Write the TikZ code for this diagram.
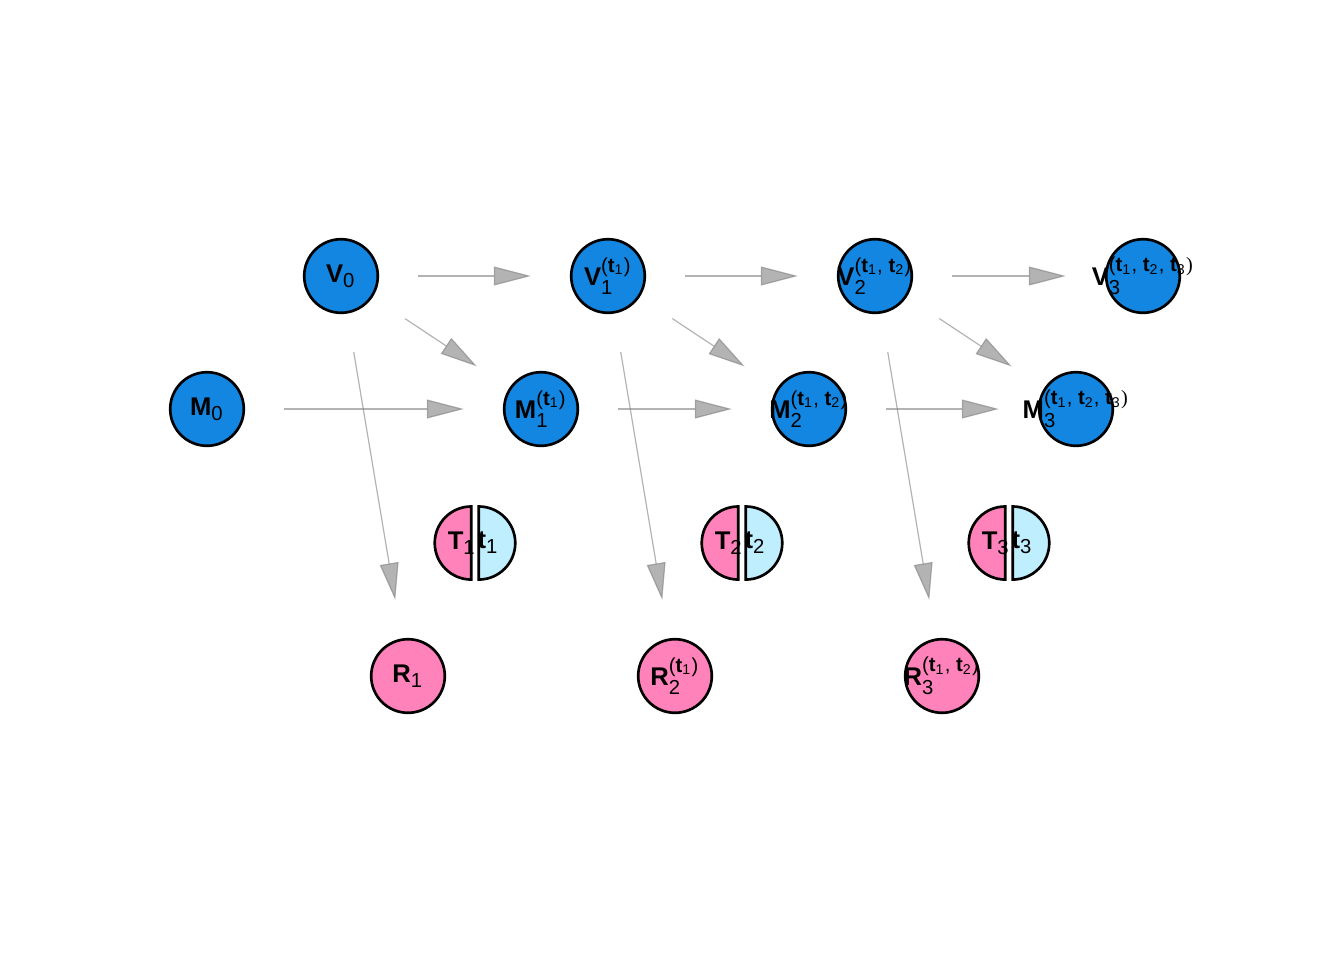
\documentclass[tikz,border=0pt]{standalone}
\usepackage{fontspec}
\usepackage{amsmath}
\setmainfont{Liberation Sans}
\newfontfamily\parenfont{Liberation Serif}
\usetikzlibrary{arrows.meta}
\DeclareMathSizes{9.6}{9.6}{7.6}{5.6}

\definecolor{vblue}{RGB}{18,134,224}
\definecolor{rpink}{RGB}{255,130,186}
\definecolor{tlight}{RGB}{191,239,255}

\newcommand{\slab}[2]{$\text{\bfseries #1}_{\text{#2}}$}
\newcommand{\vlab}[3]{$\text{\bfseries #1}_{\text{#2}}^{\text{#3}}$}
\newcommand{\tsub}[1]{\textbf{t}\textsubscript{#1}}

\begin{document}
\begin{tikzpicture}[x=0.375pt, y=-0.375pt,
        vert/.style={draw, circle, line width=1pt, minimum size=27.6pt, inner sep=0pt},
        vnode/.style={vert, fill=vblue},
        rnode/.style={vert, fill=rpink},
        every label/.style={font=\fontsize{9.6}{11.5}\selectfont, inner sep=0pt},
        tlab/.style={font=\fontsize{9.6}{11.5}\selectfont, inner sep=0pt},
        half/.style={draw, line width=1pt},
        edge/.style={draw=gray, opacity=0.6, line width=0.45pt, -{Triangle[length=13.9pt, width=7.1pt]}, shorten <=14.6pt, shorten >=14.6pt}]
        \useasboundingbox (0,0) rectangle (1344,960);

        % Draw the V row
        \node[vnode, label={center:\slab{V}{0}}] (V0) at (341, 276) {};
        \node[vnode, label={center:\vlab{V}{1}{(\tsub{1})}}] (V1) at (608, 276) {};
        \node[vnode, label={center:\vlab{V}{2}{(\tsub{1}, \tsub{2})}}] (V2) at (875, 276) {};
        \node[vnode, label={center:\vlab{V}{3}{(\tsub{1}, \tsub{2}, \tsub{3}{\parenfont)}}}] (V3) at (1143, 276) {};

        % Draw the M row
        \node[vnode, label={center:\slab{M}{0}}] (M0) at (207, 409) {};
        \node[vnode, label={center:\vlab{M}{1}{(\tsub{1})}}] (M1) at (541, 409) {};
        \node[vnode, label={center:\vlab{M}{2}{(\tsub{1}, \tsub{2})}}] (M2) at (809, 409) {};
        \node[vnode, label={center:\vlab{M}{3}{(\tsub{1}, \tsub{2}, \tsub{3}{\parenfont)}}}] (M3) at (1076, 409) {};

        % Draw the split T/t cells
        \coordinate (T1) at (475, 543);
        \coordinate (T2) at (742, 543);
        \coordinate (T3) at (1009, 543);
        \draw[half, fill=rpink] ([xshift=-1.4pt]T1) ++(0,13.7pt) arc[start angle=90, end angle=270, radius=13.7pt] -- cycle;
        \draw[half, fill=tlight] ([xshift=1.4pt]T1) ++(0,13.7pt) arc[start angle=90, end angle=-90, radius=13.7pt] -- cycle;
        \draw[half, fill=rpink] ([xshift=-1.4pt]T2) ++(0,13.7pt) arc[start angle=90, end angle=270, radius=13.7pt] -- cycle;
        \draw[half, fill=tlight] ([xshift=1.4pt]T2) ++(0,13.7pt) arc[start angle=90, end angle=-90, radius=13.7pt] -- cycle;
        \draw[half, fill=rpink] ([xshift=-1.4pt]T3) ++(0,13.7pt) arc[start angle=90, end angle=270, radius=13.7pt] -- cycle;
        \draw[half, fill=tlight] ([xshift=1.4pt]T3) ++(0,13.7pt) arc[start angle=90, end angle=-90, radius=13.7pt] -- cycle;
        \node[tlab] (T1a) at ([xshift=-4.9pt]T1) {\slab{T}{1}};
        \node[tlab] (T1b) at ([xshift=4.9pt]T1) {\slab{t}{1}};
        \node[tlab] (T2a) at ([xshift=-4.9pt]T2) {\slab{T}{2}};
        \node[tlab] (T2b) at ([xshift=4.9pt]T2) {\slab{t}{2}};
        \node[tlab] (T3a) at ([xshift=-4.9pt]T3) {\slab{T}{3}};
        \node[tlab] (T3b) at ([xshift=4.9pt]T3) {\slab{t}{3}};

        % Draw the R row
        \node[rnode, label={center:\slab{R}{1}}] (R1) at (408, 676) {};
        \node[rnode, label={center:\vlab{R}{2}{(\tsub{1})}}] (R2) at (675, 676) {};
        \node[rnode, label={center:\vlab{R}{3}{(\tsub{1}, \tsub{2})}}] (R3) at (942, 676) {};

        % Draw the arrows
        \draw[edge] (V0) -- (V1);
        \draw[edge] (V1) -- (V2);
        \draw[edge] (V2) -- (V3);
        \draw[edge] (M0) -- (M1);
        \draw[edge] (M1) -- (M2);
        \draw[edge] (M2) -- (M3);
        \draw[edge] (V0) -- (M1);
        \draw[edge] (V1) -- (M2);
        \draw[edge] (V2) -- (M3);
        \draw[edge] (V0) -- (R1);
        \draw[edge] (V1) -- (R2);
        \draw[edge] (V2) -- (R3);
    \end{tikzpicture}
\end{document}
